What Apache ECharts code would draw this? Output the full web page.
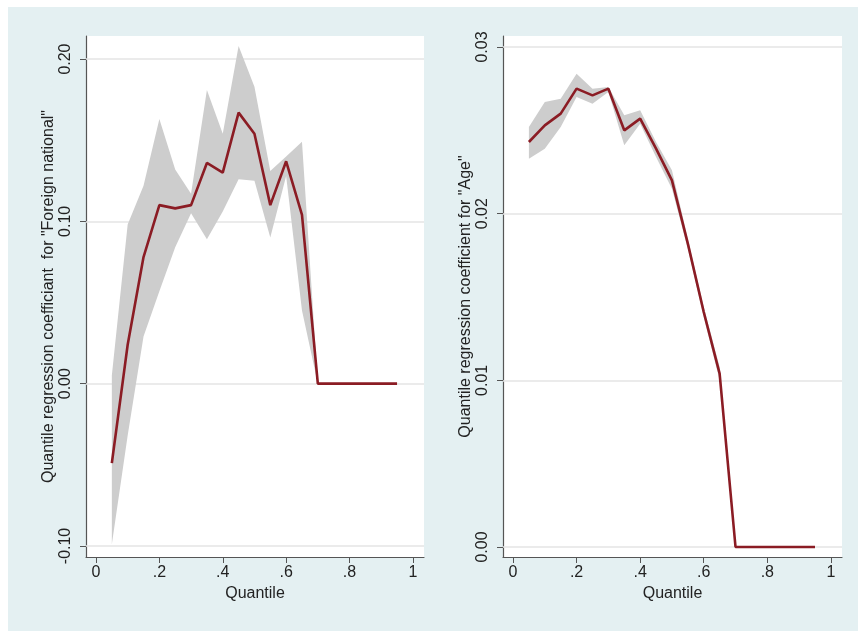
<!DOCTYPE html>
<html>
<head>
<meta charset="utf-8">
<title>Quantile regression coefficients</title>
<script src="https://cdn.jsdelivr.net/npm/echarts@6/dist/echarts.min.js"></script>
<style>
  html, body { margin: 0; padding: 0; background: #fff; }
  #main {
    width: 850px;
    height: 624px;
    border-top: 7px solid #fff;
    border-left: 8px solid #fff;
    background: #e4f0f2;
  }
</style>
</head>
<body>
<div id="main"></div>
<script>
// quantiles on the x axis
var quantiles = [0.05, 0.10, 0.15, 0.20, 0.25, 0.30, 0.35, 0.40, 0.45, 0.50,
                 0.55, 0.60, 0.65, 0.70, 0.75, 0.80, 0.85, 0.90, 0.95];

// left panel: "Foreign national"
var foreignCoef  = [-0.049, 0.024, 0.078, 0.110, 0.108, 0.110, 0.136, 0.130, 0.167, 0.154,
                    0.110, 0.137, 0.104, 0, 0, 0, 0, 0, 0];
var foreignUpper = [0.005, 0.098, 0.122, 0.163, 0.132, 0.117, 0.181, 0.154, 0.208, 0.183,
                    0.131, 0.140, 0.149, 0, 0, 0, 0, 0, 0];
var foreignLower = [-0.099, -0.032, 0.029, 0.057, 0.084, 0.105, 0.089, 0.106, 0.126, 0.125,
                    0.090, 0.128, 0.045, 0, 0, 0, 0, 0, 0];

// right panel: "Age"
var ageCoef  = [0.0243, 0.0253, 0.0260, 0.0275, 0.0271, 0.0275, 0.0250, 0.0257, 0.0239, 0.0220,
                0.0182, 0.0141, 0.0104, 0, 0, 0, 0, 0, 0];
var ageUpper = [0.0252, 0.0267, 0.0269, 0.0284, 0.0275, 0.0276, 0.0259, 0.0262, 0.0243, 0.0226,
                0.0185, 0.0144, 0.0108, 0, 0, 0, 0, 0, 0];
var ageLower = [0.0233, 0.0239, 0.0252, 0.0270, 0.0266, 0.0273, 0.0241, 0.0254, 0.0234, 0.0215,
                0.0179, 0.0138, 0.0100, 0, 0, 0, 0, 0, 0];

// tick values
var xTicks = [0, 0.2, 0.4, 0.6, 0.8, 1];
var foreignTicks = [-0.10, 0.00, 0.10, 0.20];
var ageTicks = [0.00, 0.01, 0.02, 0.03];

var lineColor = '#8b1c24';
var bandColor = '#cdcdcd';
var gridColor = '#e4e4e4';
var axisColor = '#555';
var textColor = '#222';
var font = '"Liberation Sans", Arial, sans-serif';

function pairs(ys) {
  var out = [];
  for (var i = 0; i < quantiles.length; i++) out.push([quantiles[i], ys[i]]);
  return out;
}
function xLabel(v) {
  if (v === 0) return '0';
  if (v === 1) return '1';
  return String(+v.toFixed(1)).replace('0.', '.');
}

function xAxisFor(gi) {
  return {
    type: 'value', gridIndex: gi, min: -0.0315, max: 1.035,
    name: 'Quantile', nameLocation: 'middle', nameGap: 26,
    nameTextStyle: { color: textColor, fontSize: 16, fontFamily: font },
    axisLine: { show: true, onZero: false, lineStyle: { color: axisColor, width: 1.2 } },
    axisTick: { show: true, length: 6, customValues: xTicks, lineStyle: { color: axisColor } },
    axisLabel: { customValues: xTicks, formatter: xLabel, margin: 8,
                 color: textColor, fontSize: 16, fontFamily: font },
    splitLine: { show: false }
  };
}
function yAxisFor(gi, min, max, ticks, title) {
  return {
    type: 'value', gridIndex: gi, min: min, max: max,
    name: title, nameLocation: 'middle', nameGap: 29, nameRotate: 90,
    nameTextStyle: { color: textColor, fontSize: 16, fontFamily: font },
    axisLine: { show: true, onZero: false, lineStyle: { color: axisColor, width: 1.2 } },
    axisTick: { show: true, length: 6, customValues: ticks, lineStyle: { color: axisColor } },
    axisLabel: { customValues: ticks, rotate: 90, margin: 12,
                 formatter: function (v) { return v.toFixed(2); },
                 color: textColor, fontSize: 16, fontFamily: font },
    splitLine: { show: false }
  };
}
function panelSeries(gi, coef, lo, hi, ticks) {
  var bandData = [];
  for (var i = 0; i < quantiles.length; i++) bandData.push([quantiles[i], lo[i], hi[i]]);
  return [
    {
      // confidence band drawn as one polygon through the axis scales
      type: 'custom', xAxisIndex: gi, yAxisIndex: gi, data: bandData,
      encode: { x: 0, y: [1, 2] }, z: 2, silent: true, clip: true,
      renderItem: function (params, api) {
        if (params.dataIndex !== 0) return;
        var pts = [];
        for (var k = 0; k < bandData.length; k++) pts.push(api.coord([bandData[k][0], bandData[k][2]]));
        for (var k = bandData.length - 1; k >= 0; k--) pts.push(api.coord([bandData[k][0], bandData[k][1]]));
        return { type: 'polygon', shape: { points: pts }, style: { fill: bandColor } };
      },
      markLine: {
        silent: true, symbol: 'none', label: { show: false }, z: 1,
        lineStyle: { color: gridColor, width: 1.5, type: 'solid' },
        data: ticks.map(function (t) { return { yAxis: t }; })
      }
    },
    {
      type: 'line', xAxisIndex: gi, yAxisIndex: gi, data: pairs(coef),
      symbol: 'none', lineStyle: { color: lineColor, width: 2.6 }, z: 3
    }
  ];
}

var chart = echarts.init(document.getElementById('main'));
chart.setOption({
  animation: false,
  backgroundColor: 'transparent',
  grid: [
    { left: 78, right: 434, top: 29, bottom: 74, show: true, backgroundColor: '#fff', borderWidth: 0 },
    { left: 495, right: 16, top: 29, bottom: 74, show: true, backgroundColor: '#fff', borderWidth: 0 }
  ],
  xAxis: [xAxisFor(0), xAxisFor(1)],
  yAxis: [
    yAxisFor(0, -0.1068, 0.2142, foreignTicks, 'Quantile regression coefficiant  for "Foreign national"'),
    yAxisFor(1, -0.0006, 0.03066, ageTicks, 'Quantile regression coefficient for "Age"')
  ],
  series: panelSeries(0, foreignCoef, foreignLower, foreignUpper, foreignTicks)
    .concat(panelSeries(1, ageCoef, ageLower, ageUpper, ageTicks))
});
</script>
</body>
</html>
